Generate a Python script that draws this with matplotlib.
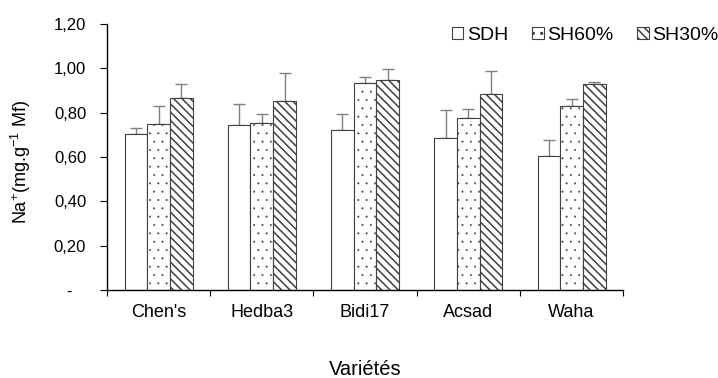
import numpy as np
import matplotlib.pyplot as plt
from matplotlib.ticker import FuncFormatter

# données
varietes = ["Chen's", "Hedba3", "Bidi17", "Acsad", "Waha"]
traitements = ["SDH", "SH60%", "SH30%"]

sdh = [0.705, 0.743, 0.720, 0.684, 0.604]
sdh_err = [0.024, 0.095, 0.072, 0.127, 0.073]
sh60 = [0.747, 0.752, 0.935, 0.774, 0.830]
sh60_err = [0.082, 0.043, 0.024, 0.041, 0.032]
sh30 = [0.867, 0.854, 0.947, 0.883, 0.928]
sh30_err = [0.061, 0.123, 0.051, 0.103, 0.009]

yticks = [0, 0.2, 0.4, 0.6, 0.8, 1.0, 1.2]

plt.rcParams['font.family'] = ['Liberation Sans', 'DejaVu Sans']
plt.rcParams['mathtext.default'] = 'regular'

fig = plt.figure(figsize=(7.18, 3.78), dpi=100)
ax = fig.add_axes([0.149, 0.233, 0.719, 0.704])

x = np.arange(len(varietes))
w = 0.22
# (valeurs, erreurs, hachure, épaisseur de hachure)
series = [(sdh, sdh_err, '', 1.0), (sh60, sh60_err, '..', 0.2),
          (sh30, sh30_err, '\\\\\\\\', 1.1)]
for i, (vals, err, hatch, hlw) in enumerate(series):
    plt.rcParams['hatch.linewidth'] = hlw
    ax.bar(x + (i - 1) * w, vals, w, color='white', edgecolor='#404040',
           linewidth=0.8, hatch=hatch, label=traitements[i], zorder=2)
    ax.errorbar(x + (i - 1) * w, vals, yerr=[np.zeros(len(vals)), err],
                fmt='none', ecolor='#808080', elinewidth=1, capsize=4.3,
                capthick=1, zorder=1)

ax.set_xlim(-0.5, len(varietes) - 0.5)
ax.set_ylim(0, 1.2)
ax.set_yticks(yticks)
ax.yaxis.set_major_formatter(FuncFormatter(
    lambda v, p: '-   ' if v == 0 else ('%.2f' % v).replace('.', ',')))

ax.set_xticks(np.arange(len(varietes) + 1) - 0.5)
ax.set_xticklabels([])
ax.set_xticks(x, minor=True)
ax.set_xticklabels(varietes, minor=True, fontsize=13)
ax.tick_params(axis='x', which='major', direction='out', length=4, width=0.8)
ax.tick_params(axis='x', which='minor', length=0, pad=10)
ax.tick_params(axis='y', direction='out', length=5, width=0.8, labelsize=12, pad=10)

for s in ['top', 'right']:
    ax.spines[s].set_visible(False)
for s in ['left', 'bottom']:
    ax.spines[s].set_linewidth(1)

ax.set_ylabel('Na$^{+}$(mg.g$^{-1}$ Mf)', fontsize=13)
ax.yaxis.set_label_coords(-0.143, 0.48)
ax.set_xlabel('Variétés', fontsize=14.5, va='top')
ax.xaxis.set_label_coords(0.5, -0.265)

fig.legend(loc='upper right', bbox_to_anchor=(1.012, 0.95), ncol=3, frameon=False,
           fontsize=14, handlelength=0.6, handleheight=0.6, handletextpad=0.2,
           columnspacing=1.2, borderaxespad=0.0)

fig.savefig('out.png', dpi=100)
